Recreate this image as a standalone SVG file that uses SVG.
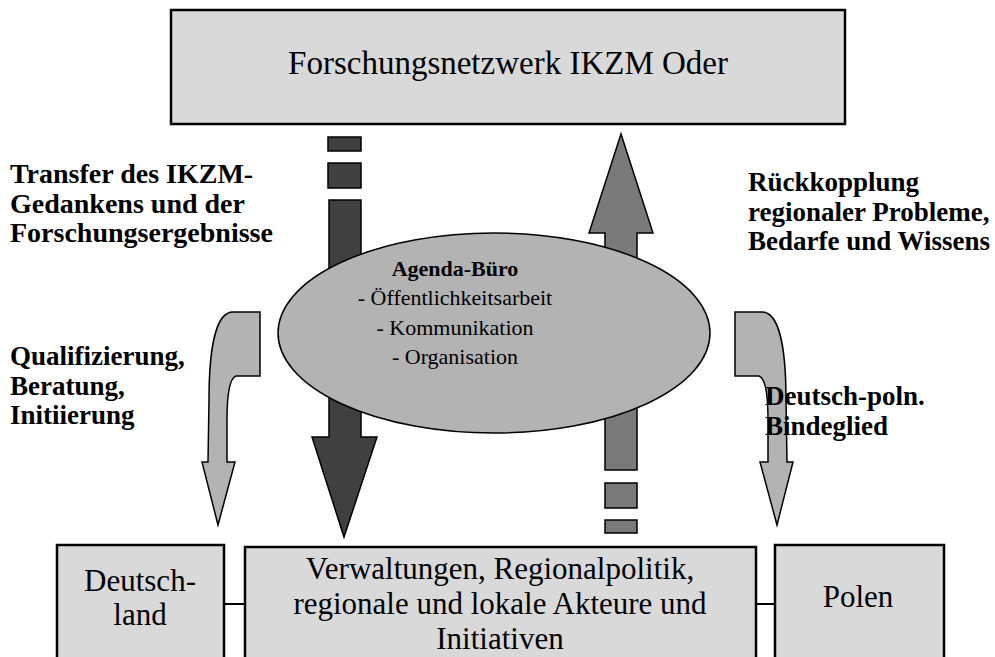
<svg xmlns="http://www.w3.org/2000/svg" width="995" height="657" viewBox="0 0 995 657">
<defs>
<style>
.box{fill:#d9d9d9;stroke:#000;stroke-width:2.5}
.t{font-family:"Liberation Serif","Times New Roman",serif;font-size:31px;fill:#000;text-anchor:middle}
.e{font-family:"Liberation Serif","Times New Roman",serif;font-size:22px;fill:#000;text-anchor:middle}
.b{font-family:"Liberation Serif","Times New Roman",serif;font-size:27px;font-weight:bold;fill:#000}
.bl{font-size:28px}
.dark{fill:#404040;stroke:#000;stroke-width:1.5}
.mid{fill:#7a7a7a;stroke:#000;stroke-width:1.5}
.light{fill:#b3b3b3;stroke:#000;stroke-width:1.5}
</style>
<path id="curve" d="M260,312 V376 H236 C230,378 227,395 227,420 V462 H235 L218,525 L202,462 H208 L209,400 C209,340 218,312 233,312 Z"/>
</defs>
<rect width="995" height="657" fill="#fff"/>
<g id="connectors">
  <line x1="224" y1="604" x2="245" y2="604" stroke="#000" stroke-width="2"/>
  <line x1="756" y1="604" x2="775" y2="604" stroke="#000" stroke-width="2"/>
  <g id="arrow-down">
    <rect class="dark" x="328" y="137" width="33" height="14"/>
    <rect class="dark" x="328" y="163" width="33" height="25"/>
    <path class="dark" d="M329,200 H361 V437 H377 L344,537 L312,437 H329 Z"/>
  </g>
  <g id="arrow-up">
    <path class="mid" d="M605,470 V233 H589 L621,134 L653,233 H637 V470 Z"/>
    <rect class="mid" x="605" y="483" width="32" height="25"/>
    <rect class="mid" x="605" y="520" width="32" height="13"/>
  </g>
  <use id="arrow-left-curve" href="#curve" class="light"/>
  <use id="arrow-right-curve" href="#curve" class="light" transform="translate(995,0) scale(-1,1)"/>
</g>
<g id="agenda">
  <ellipse cx="494" cy="333" rx="216" ry="100" fill="#b3b3b3" stroke="#000" stroke-width="1.5"/>
  <text class="e" x="455" y="276" font-weight="bold">Agenda-Büro</text>
  <text class="e" x="455" y="305">- Öffentlichkeitsarbeit</text>
  <text class="e" x="455" y="335">- Kommunikation</text>
  <text class="e" x="455" y="364">- Organisation</text>
</g>
<g id="forschung">
  <rect class="box" x="171" y="10" width="674" height="114"/>
  <text class="t" x="508" y="74" style="font-size:33px">Forschungsnetzwerk IKZM Oder</text>
</g>
<g id="deutschland">
  <rect class="box" x="57" y="545" width="167" height="120"/>
  <text class="t" x="140" y="591">Deutsch-</text>
  <text class="t" x="140" y="625">land</text>
</g>
<g id="verwaltungen">
  <rect class="box" x="245" y="547" width="511" height="120"/>
  <text class="t" x="500" y="579">Verwaltungen, Regionalpolitik,</text>
  <text class="t" x="500" y="614">regionale und lokale Akteure und</text>
  <text class="t" x="500" y="649">Initiativen</text>
</g>
<g id="polen">
  <rect class="box" x="775" y="545" width="169" height="120"/>
  <text class="t" x="858" y="607">Polen</text>
</g>
<g id="labels">
  <text class="b bl" x="10" y="183">Transfer des IKZM-</text>
  <text class="b bl" x="10" y="213">Gedankens und der</text>
  <text class="b bl" x="10" y="242">Forschungsergebnisse</text>
  <text class="b" x="748" y="191">Rückkopplung</text>
  <text class="b" x="748" y="221">regionaler Probleme,</text>
  <text class="b" x="748" y="250">Bedarfe und Wissens</text>
  <text class="b" x="10" y="365">Qualifizierung,</text>
  <text class="b" x="10" y="395">Beratung,</text>
  <text class="b" x="10" y="424">Initiierung</text>
  <text class="b" x="765" y="405">Deutsch-poln.</text>
  <text class="b" x="765" y="435">Bindeglied</text>
</g>
</svg>
